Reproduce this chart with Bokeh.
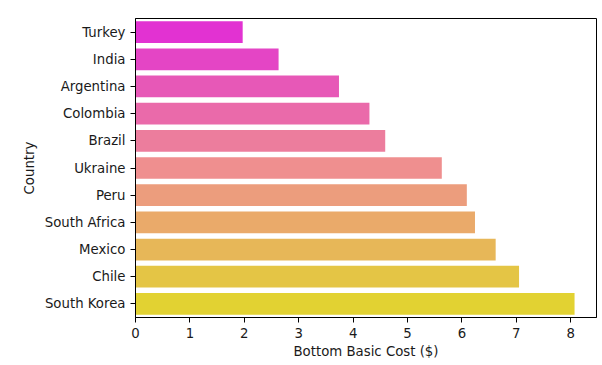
import colorsys
from bokeh.plotting import figure
from bokeh.models import ColumnDataSource, FactorRange, Range1d, SingleIntervalTicker
from bokeh.embed import file_html
from bokeh.resources import INLINE

countries = ["Turkey", "India", "Argentina", "Colombia", "Brazil", "Ukraine",
             "Peru", "South Africa", "Mexico", "Chile", "South Korea"]
costs = [1.97, 2.63, 3.74, 4.30, 4.59, 5.63, 6.09, 6.24, 6.62, 7.05, 8.07]
x_label = "Bottom Basic Cost ($)"
y_label = "Country"

# seaborn "spring" palette, desaturated to 0.75 as barplot does
n = len(countries)
colors = []
for i in range(n):
    t = (i + 1) / (n + 1)
    r, g, b = 1.0, t, 1.0 - t
    h, l, s = colorsys.rgb_to_hls(r, g, b)
    r2, g2, b2 = colorsys.hls_to_rgb(h, l, s * 0.75)
    colors.append("#%02x%02x%02x" % (round(r2 * 255), round(g2 * 255), round(b2 * 255)))

source = ColumnDataSource(dict(country=countries, cost=costs, color=colors))

p = figure(
    y_range=FactorRange(factors=list(reversed(countries))),
    x_range=Range1d(0, max(costs) * 1.05),
    frame_width=461, frame_height=299,
    min_border_left=135, min_border_right=2, min_border_top=18, min_border_bottom=44,
    output_backend="svg", toolbar_location=None,
)
p.hbar(y="country", right="cost", left=0, height=0.8, color="color",
       line_color=None, source=source)

font = "DejaVu Sans"
fs = "13.3px"
tc = "#1a1a1a"

p.xgrid.visible = False
p.ygrid.visible = False
p.outline_line_color = "black"
p.outline_line_width = 1
p.background_fill_color = "white"
p.border_fill_color = "white"

p.xaxis.ticker = SingleIntervalTicker(interval=1, num_minor_ticks=0)
for ax in (p.xaxis[0], p.yaxis[0]):
    ax.axis_line_color = "black"
    ax.major_tick_line_color = "black"
    ax.major_tick_in = 0
    ax.major_tick_out = 5
    ax.minor_tick_line_color = None
    ax.major_label_text_font = font
    ax.major_label_text_font_size = fs
    ax.major_label_text_color = tc
    ax.axis_label_text_font = font
    ax.axis_label_text_font_size = fs
    ax.axis_label_text_font_style = "normal"
    ax.axis_label_text_color = tc
    ax.major_label_standoff = 5

p.xaxis.axis_label = x_label
p.yaxis.axis_label = y_label
p.xaxis.axis_label_standoff = 3
p.yaxis.axis_label_standoff = 5

open("out.html", "w").write(file_html(p, INLINE))
